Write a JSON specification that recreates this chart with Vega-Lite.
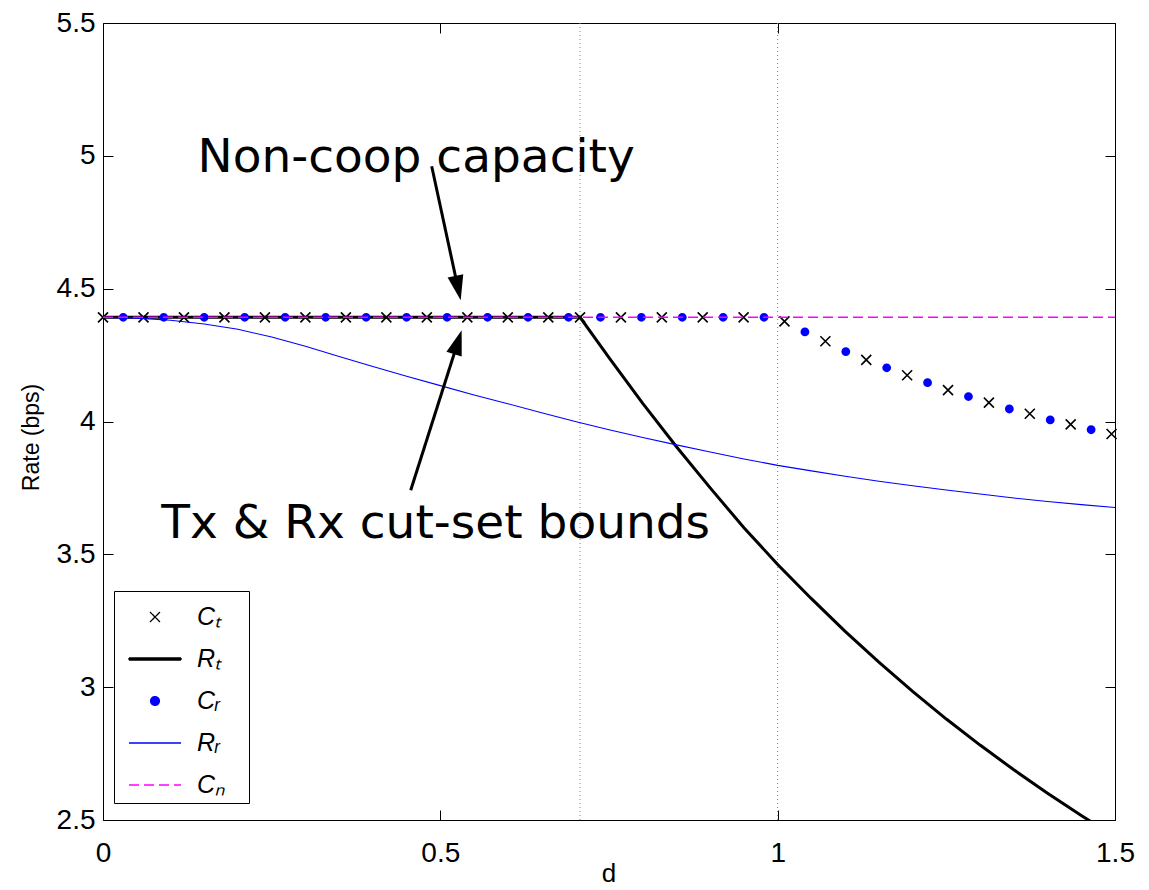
{
  "$schema": "https://vega.github.io/schema/vega-lite/v6.json",
  "width": 1012,
  "height": 797,
  "autosize": {"type": "none"},
  "padding": {"left": 103, "top": 23, "right": 34, "bottom": 70},
  "background": "white",
  "config": {
    "view": {"stroke": "black", "strokeWidth": 1},
    "axis": {
      "labelFont": "Liberation Sans",
      "labelFontSize": 28,
      "labelColor": "black",
      "labelFlush": false,
      "tickColor": "black",
      "tickSize": -10,
      "tickWidth": 1,
      "domain": false,
      "grid": false
    },
    "legend": {
      "orient": "none",
      "legendX": 11,
      "legendY": 568,
      "padding": 5,
      "strokeColor": "black",
      "fillColor": "white",
      "symbolSize": 1600,
      "symbolOffset": 15,
      "labelOffset": 21,
      "rowPadding": 8,
      "symbolOpacity": 1,
      "symbolStrokeWidth": 1.3,
      "labelFont": "Liberation Sans",
      "labelFontSize": 25,
      "labelFontStyle": "italic",
      "labelColor": "black"
    }
  },
  "datasets": {
    "pts": [
      {"s": "Ct", "d": 0, "v": 4.392}, {"s": "Ct", "d": 0.06, "v": 4.392}, {"s": "Ct", "d": 0.12, "v": 4.392},
      {"s": "Ct", "d": 0.18, "v": 4.392}, {"s": "Ct", "d": 0.24, "v": 4.392}, {"s": "Ct", "d": 0.3, "v": 4.392},
      {"s": "Ct", "d": 0.36, "v": 4.392}, {"s": "Ct", "d": 0.42, "v": 4.392}, {"s": "Ct", "d": 0.48, "v": 4.392},
      {"s": "Ct", "d": 0.54, "v": 4.392}, {"s": "Ct", "d": 0.6, "v": 4.392}, {"s": "Ct", "d": 0.66, "v": 4.392},
      {"s": "Ct", "d": 0.7071, "v": 4.392}, {"s": "Ct", "d": 0.7677, "v": 4.392}, {"s": "Ct", "d": 0.8283, "v": 4.392},
      {"s": "Ct", "d": 0.8889, "v": 4.392}, {"s": "Ct", "d": 0.9495, "v": 4.392}, {"s": "Ct", "d": 1.0101, "v": 4.377},
      {"s": "Ct", "d": 1.0707, "v": 4.302}, {"s": "Ct", "d": 1.1313, "v": 4.232}, {"s": "Ct", "d": 1.1919, "v": 4.174},
      {"s": "Ct", "d": 1.2525, "v": 4.118}, {"s": "Ct", "d": 1.3131, "v": 4.071}, {"s": "Ct", "d": 1.3737, "v": 4.029},
      {"s": "Ct", "d": 1.4343, "v": 3.989}, {"s": "Ct", "d": 1.4949, "v": 3.953},
      {"s": "Cr", "d": 0.03, "v": 4.392}, {"s": "Cr", "d": 0.09, "v": 4.392}, {"s": "Cr", "d": 0.15, "v": 4.392},
      {"s": "Cr", "d": 0.21, "v": 4.392}, {"s": "Cr", "d": 0.27, "v": 4.392}, {"s": "Cr", "d": 0.33, "v": 4.392},
      {"s": "Cr", "d": 0.39, "v": 4.392}, {"s": "Cr", "d": 0.45, "v": 4.392}, {"s": "Cr", "d": 0.51, "v": 4.392},
      {"s": "Cr", "d": 0.57, "v": 4.392}, {"s": "Cr", "d": 0.63, "v": 4.392}, {"s": "Cr", "d": 0.69, "v": 4.392},
      {"s": "Cr", "d": 0.7374, "v": 4.392}, {"s": "Cr", "d": 0.798, "v": 4.392}, {"s": "Cr", "d": 0.8586, "v": 4.392},
      {"s": "Cr", "d": 0.9192, "v": 4.392}, {"s": "Cr", "d": 0.9798, "v": 4.392}, {"s": "Cr", "d": 1.0404, "v": 4.337},
      {"s": "Cr", "d": 1.101, "v": 4.263}, {"s": "Cr", "d": 1.1616, "v": 4.202}, {"s": "Cr", "d": 1.2222, "v": 4.146},
      {"s": "Cr", "d": 1.2828, "v": 4.094}, {"s": "Cr", "d": 1.3434, "v": 4.047}, {"s": "Cr", "d": 1.404, "v": 4.006},
      {"s": "Cr", "d": 1.4646, "v": 3.969}
    ],
    "lines": [
      {"s": "Rt", "d": 0, "v": 4.392}, {"s": "Rt", "d": 0.7071, "v": 4.392}, {"s": "Rt", "d": 0.75, "v": 4.24},
      {"s": "Rt", "d": 0.8, "v": 4.068}, {"s": "Rt", "d": 0.85, "v": 3.905}, {"s": "Rt", "d": 0.9, "v": 3.75},
      {"s": "Rt", "d": 0.95, "v": 3.6}, {"s": "Rt", "d": 1.0, "v": 3.462}, {"s": "Rt", "d": 1.05, "v": 3.333},
      {"s": "Rt", "d": 1.1, "v": 3.21}, {"s": "Rt", "d": 1.15, "v": 3.094}, {"s": "Rt", "d": 1.2, "v": 2.984},
      {"s": "Rt", "d": 1.25, "v": 2.88}, {"s": "Rt", "d": 1.3, "v": 2.782}, {"s": "Rt", "d": 1.35, "v": 2.689},
      {"s": "Rt", "d": 1.4, "v": 2.601}, {"s": "Rt", "d": 1.45, "v": 2.517}, {"s": "Rt", "d": 1.5, "v": 2.437},
      {"s": "Rr", "d": 0, "v": 4.392}, {"s": "Rr", "d": 0.05, "v": 4.389}, {"s": "Rr", "d": 0.1, "v": 4.381},
      {"s": "Rr", "d": 0.15, "v": 4.367}, {"s": "Rr", "d": 0.2, "v": 4.347}, {"s": "Rr", "d": 0.25, "v": 4.318},
      {"s": "Rr", "d": 0.3, "v": 4.283}, {"s": "Rr", "d": 0.35, "v": 4.245}, {"s": "Rr", "d": 0.4, "v": 4.207},
      {"s": "Rr", "d": 0.45, "v": 4.17}, {"s": "Rr", "d": 0.5, "v": 4.135}, {"s": "Rr", "d": 0.55, "v": 4.1},
      {"s": "Rr", "d": 0.6, "v": 4.067}, {"s": "Rr", "d": 0.65, "v": 4.033}, {"s": "Rr", "d": 0.7, "v": 4.0},
      {"s": "Rr", "d": 0.75, "v": 3.969}, {"s": "Rr", "d": 0.8, "v": 3.94}, {"s": "Rr", "d": 0.85, "v": 3.912},
      {"s": "Rr", "d": 0.9, "v": 3.885}, {"s": "Rr", "d": 0.95, "v": 3.859}, {"s": "Rr", "d": 1.0, "v": 3.835},
      {"s": "Rr", "d": 1.05, "v": 3.814}, {"s": "Rr", "d": 1.1, "v": 3.794}, {"s": "Rr", "d": 1.15, "v": 3.775},
      {"s": "Rr", "d": 1.2, "v": 3.758}, {"s": "Rr", "d": 1.25, "v": 3.742}, {"s": "Rr", "d": 1.3, "v": 3.727},
      {"s": "Rr", "d": 1.35, "v": 3.712}, {"s": "Rr", "d": 1.4, "v": 3.699}, {"s": "Rr", "d": 1.45, "v": 3.687},
      {"s": "Rr", "d": 1.5, "v": 3.676},
      {"s": "Cn", "d": 0, "v": 4.392}, {"s": "Cn", "d": 1.5, "v": 4.392}
    ],
    "vlines": [{"d": 0.7071}, {"d": 1.0}],
    "notes": [
      {"label": "Non-coop capacity", "d": 0.4642, "v": 4.938},
      {"label": "Tx & Rx cut-set bounds", "d": 0.4931, "v": 3.56}
    ],
    "xtitle": [{"label": "d", "d": 0.75, "v": 2.266}],
    "ytitle": [{"label": "Rate (bps)", "d": -0.1057, "v": 3.94}],
    "arrows": [
      {"a": 1, "d": 0.4872, "v": 4.9607, "d2": 0.5269, "v2": 4.494, "td": 0.5302, "tv": 4.4563},
      {"a": 2, "d": 0.4561, "v": 3.7413, "d2": 0.5271, "v2": 4.3077, "td": 0.5316, "tv": 4.3434}
    ]
  },
  "layer": [
    {
      "data": {"name": "vlines"},
      "mark": {"type": "rule", "color": "#808080", "strokeWidth": 1, "strokeDash": [1, 3]},
      "encoding": {
        "x": {"field": "d", "type": "quantitative", "scale": {"domain": [0, 1.5], "nice": false, "zero": false},
          "axis": {"orient": "top", "labels": false, "title": null, "values": [0, 0.5, 1, 1.5], "tickSize": -10}}
      }
    },
    {
      "data": {"name": "pts"},
      "transform": [{"filter": "datum.s === 'Ct'"}],
      "mark": {"type": "point", "filled": false, "size": 1600, "opacity": 1, "strokeWidth": 1.6},
      "encoding": {
        "x": {"field": "d", "type": "quantitative", "scale": {"domain": [0, 1.5], "nice": false, "zero": false},
          "axis": {"orient": "bottom", "title": null, "values": [0, 0.5, 1, 1.5], "format": "~g", "labelFlush": false, "labelPadding": 29}},
        "y": {"field": "v", "type": "quantitative", "scale": {"domain": [2.5, 5.5], "nice": false, "zero": false},
          "axis": {"orient": "left", "title": null, "values": [2.5, 3, 3.5, 4, 4.5, 5, 5.5], "format": "~g", "labelFlush": false, "labelPadding": 18}},
        "stroke": {"field": "s", "type": "nominal",
          "scale": {"domain": ["Ct", "Rt", "Cr", "Rr", "Cn"], "range": ["#000000", "#000000", "#0000ff", "#0000ff", "#ff00ff"]},
          "legend": {"title": null, "labelExpr": "({'Ct': 'C\u209c', 'Rt': 'R\u209c', 'Cr': 'C\u1d63', 'Rr': 'R\u1d63', 'Cn': 'C\u2099'})[datum.value] + '\u2800'"}},
        "shape": {"field": "s", "type": "nominal",
          "scale": {"domain": ["Ct", "Rt", "Cr", "Rr", "Cn"], "range": ["M-0.25,-0.25L0.25,0.25M-0.25,0.25L0.25,-0.25", "M-1.3,-0.05L1.3,-0.05L1.3,0.05L-1.3,0.05Z", "M-0.22,0A0.22,0.22,0,1,1,0.22,0A0.22,0.22,0,1,1,-0.22,0Z", "M-1.3,0L1.3,0", "M-1.3,0L1.3,0"]},
          "legend": {"title": null, "labelExpr": "({'Ct': 'C\u209c', 'Rt': 'R\u209c', 'Cr': 'C\u1d63', 'Rr': 'R\u1d63', 'Cn': 'C\u2099'})[datum.value] + '\u2800'"}}
      }
    },
    {
      "data": {"name": "lines"},
      "transform": [{"filter": "datum.s === 'Rt'"}],
      "mark": {"type": "line", "clip": true, "strokeWidth": 3},
      "encoding": {
        "x": {"field": "d", "type": "quantitative", "scale": {"domain": [0, 1.5], "nice": false, "zero": false}, "axis": null},
        "y": {"field": "v", "type": "quantitative", "scale": {"domain": [2.5, 5.5], "nice": false, "zero": false}, "axis": null},
        "stroke": {"field": "s", "type": "nominal"}
      }
    },
    {
      "data": {"name": "pts"},
      "transform": [{"filter": "datum.s === 'Cr'"}],
      "mark": {"type": "point", "filled": true, "size": 1600, "opacity": 1},
      "encoding": {
        "x": {"field": "d", "type": "quantitative", "scale": {"domain": [0, 1.5], "nice": false, "zero": false}, "axis": null},
        "y": {"field": "v", "type": "quantitative", "scale": {"domain": [2.5, 5.5], "nice": false, "zero": false}, "axis": null},
        "shape": {"field": "s", "type": "nominal"},
        "fill": {"field": "s", "type": "nominal",
          "scale": {"domain": ["Ct", "Rt", "Cr", "Rr", "Cn"], "range": ["#000000", "#000000", "#0000ff", "#0000ff", "#ff00ff"]},
          "legend": {"title": null, "labelExpr": "({'Ct': 'C\u209c', 'Rt': 'R\u209c', 'Cr': 'C\u1d63', 'Rr': 'R\u1d63', 'Cn': 'C\u2099'})[datum.value] + '\u2800'"}}
      }
    },
    {
      "data": {"name": "lines"},
      "transform": [{"filter": "datum.s === 'Rr'"}],
      "mark": {"type": "line", "strokeWidth": 1.1},
      "encoding": {
        "x": {"field": "d", "type": "quantitative", "scale": {"domain": [0, 1.5], "nice": false, "zero": false}, "axis": null},
        "y": {"field": "v", "type": "quantitative", "scale": {"domain": [2.5, 5.5], "nice": false, "zero": false}, "axis": null},
        "stroke": {"field": "s", "type": "nominal"}
      }
    },
    {
      "data": {"name": "lines"},
      "transform": [{"filter": "datum.s === 'Cn'"}],
      "mark": {"type": "line", "strokeWidth": 1.5},
      "encoding": {
        "x": {"field": "d", "type": "quantitative", "scale": {"domain": [0, 1.5], "nice": false, "zero": false}, "axis": null},
        "y": {"field": "v", "type": "quantitative", "scale": {"domain": [2.5, 5.5], "nice": false, "zero": false},
          "axis": {"orient": "right", "labels": false, "title": null, "values": [2.5, 3, 3.5, 4, 4.5, 5, 5.5], "tickSize": -10}},
        "stroke": {"field": "s", "type": "nominal"},
        "strokeDash": {"field": "s", "type": "nominal",
          "scale": {"domain": ["Ct", "Rt", "Cr", "Rr", "Cn"], "range": [[1, 0], [1, 0], [1, 0], [1, 0], [10, 5]]},
          "legend": {"title": null, "labelExpr": "({'Ct': 'C\u209c', 'Rt': 'R\u209c', 'Cr': 'C\u1d63', 'Rr': 'R\u1d63', 'Cn': 'C\u2099'})[datum.value] + '\u2800'"}}
      }
    },
    {
      "data": {"name": "notes"},
      "mark": {"type": "text", "font": "DejaVu Sans", "fontSize": 47, "align": "center", "baseline": "alphabetic", "color": "black"},
      "encoding": {
        "x": {"field": "d", "type": "quantitative", "scale": {"domain": [0, 1.5], "nice": false, "zero": false}, "axis": null},
        "y": {"field": "v", "type": "quantitative", "scale": {"domain": [2.5, 5.5], "nice": false, "zero": false}, "axis": null},
        "text": {"field": "label"}
      }
    },
    {
      "data": {"name": "xtitle"},
      "mark": {"type": "text", "font": "Liberation Sans", "fontSize": 26, "align": "center", "baseline": "alphabetic", "color": "black", "clip": false},
      "encoding": {
        "x": {"field": "d", "type": "quantitative", "scale": {"domain": [0, 1.5], "nice": false, "zero": false}, "axis": null},
        "y": {"field": "v", "type": "quantitative", "scale": {"domain": [2.5, 5.5], "nice": false, "zero": false}, "axis": null},
        "text": {"field": "label"}
      }
    },
    {
      "data": {"name": "ytitle"},
      "mark": {"type": "text", "font": "Liberation Sans", "fontSize": 23, "align": "center", "baseline": "middle", "angle": 270, "color": "black", "clip": false},
      "encoding": {
        "x": {"field": "d", "type": "quantitative", "scale": {"domain": [0, 1.5], "nice": false, "zero": false}, "axis": null},
        "y": {"field": "v", "type": "quantitative", "scale": {"domain": [2.5, 5.5], "nice": false, "zero": false}, "axis": null},
        "text": {"field": "label"}
      }
    },
    {
      "data": {"name": "arrows"},
      "mark": {"type": "rule", "color": "black", "strokeWidth": 3},
      "encoding": {
        "x": {"field": "d", "type": "quantitative", "scale": {"domain": [0, 1.5], "nice": false, "zero": false}, "axis": null},
        "y": {"field": "v", "type": "quantitative", "scale": {"domain": [2.5, 5.5], "nice": false, "zero": false}, "axis": null},
        "x2": {"field": "d2"},
        "y2": {"field": "v2"}
      }
    },
    {
      "data": {"name": "arrows"},
      "transform": [{"filter": "datum.a === 1"}],
      "mark": {"type": "point", "shape": "M0,0L-0.32,1L0.32,1Z", "filled": true, "size": 2500, "angle": 167.8, "color": "black", "opacity": 1},
      "encoding": {
        "x": {"field": "td", "type": "quantitative", "scale": {"domain": [0, 1.5], "nice": false, "zero": false}, "axis": null},
        "y": {"field": "tv", "type": "quantitative", "scale": {"domain": [2.5, 5.5], "nice": false, "zero": false}, "axis": null}
      }
    },
    {
      "data": {"name": "arrows"},
      "transform": [{"filter": "datum.a === 2"}],
      "mark": {"type": "point", "shape": "M0,0L-0.32,1L0.32,1Z", "filled": true, "size": 2500, "angle": 17.7, "color": "black", "opacity": 1},
      "encoding": {
        "x": {"field": "td", "type": "quantitative", "scale": {"domain": [0, 1.5], "nice": false, "zero": false}, "axis": null},
        "y": {"field": "tv", "type": "quantitative", "scale": {"domain": [2.5, 5.5], "nice": false, "zero": false}, "axis": null}
      }
    }
  ],
  "resolve": {"axis": {"x": "independent", "y": "independent"}}
}
